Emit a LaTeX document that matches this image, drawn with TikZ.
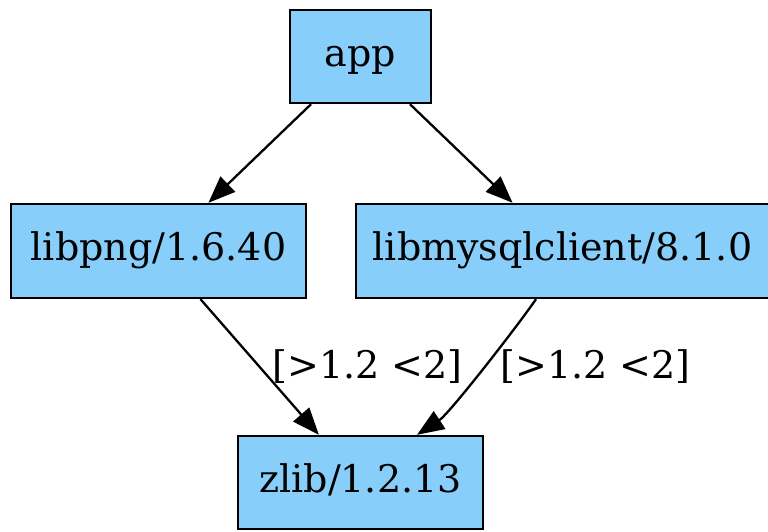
\documentclass[tikz,border=0pt]{standalone}
\usepackage{fontspec}
\setmainfont{DejaVu Serif}
\usetikzlibrary{arrows.meta,calc}
\definecolor{boxfill}{RGB}{135,206,250}
\begin{document}
\begin{tikzpicture}[x=1pt,y=-1pt,
  pkg/.style={draw=black,fill=boxfill,line width=2.4pt,rectangle,inner sep=0pt,
    text height=28.5pt,text depth=9.5pt,font=\fontsize{38}{46}\selectfont},
  dep/.style={line width=2.3pt,-{Triangle[length=27pt,width=21pt]}},
  lbl/.style={anchor=base,inner sep=0pt,font=\fontsize{38}{46}\selectfont}]
\useasboundingbox (0,0) rectangle (768,531);
\node[pkg,minimum width=141pt,minimum height=93pt] (app) at (360.5,56.5) {app};
\node[pkg,minimum width=295pt,minimum height=94pt] (libpng) at (158.5,251) {libpng/1.6.40};
\node[pkg,minimum width=413pt,minimum height=94pt] (libmysql) at (562.5,251) {libmysqlclient/8.1.0};
\node[pkg,minimum width=245pt,minimum height=93pt] (zlib) at (360.5,482.5) {zlib/1.2.13};
\draw[dep] (app) -- (libpng);
\draw[dep] (app) -- (libmysql);
\draw[dep] (libpng) -- (zlib);
\draw[dep] ($(libmysql.south)+(-26.5,0)$) .. controls ($(libmysql.south)+(-46.7,29.1)$) and ($(zlib.north)+(88.8,-21.1)$) .. ($(zlib.north)+(56.5,0)$);
\node[lbl] (l1) at (367.5,378) {[>1.2 <2]};
\node[lbl] (l2) at (595.5,378) {[>1.2 <2]};
\end{tikzpicture}
\end{document}
